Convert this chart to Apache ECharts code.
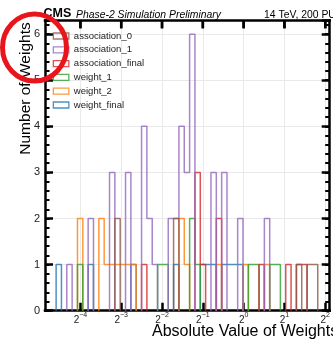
<!DOCTYPE html>
<html>
<head>
<meta charset="utf-8">
<script src="https://cdn.jsdelivr.net/npm/echarts@6/dist/echarts.min.js"></script>
<style>
  html, body { margin: 0; padding: 0; background: #ffffff; }
  #chart { width: 333px; height: 340px; }
</style>
</head>
<body>
<div id="chart"></div>
<script>
// Logarithmic bin edges (50 edges -> 49 bins)
const binEdges = [
  0.04138, 0.04530, 0.04960, 0.05431, 0.05947, 0.06511, 0.07129, 0.07806, 0.08547, 0.09359,
  0.10247, 0.11220, 0.12285, 0.13451, 0.14728, 0.16126, 0.17657, 0.19333, 0.21168, 0.23178,
  0.25378, 0.27787, 0.30425, 0.33313, 0.36476, 0.39938, 0.43730, 0.47881, 0.52426, 0.57403,
  0.62852, 0.68819, 0.75352, 0.82505, 0.90337, 0.98913, 1.08302, 1.18583, 1.29840, 1.42165,
  1.55661, 1.70437, 1.86617, 2.04332, 2.23729, 2.44967, 2.68221, 2.93683, 3.21562, 3.52087
];

// Counts per bin for each histogram
//                     0  1  2  3  4  5  6  7  8  9 10 11 12 13 14 15 16 17 18 19 20 21 22 23 24 25 26 27 28 29 30 31 32 33 34 35 36 37 38 39 40 41 42 43 44 45 46 47 48
const weightFinal     = [1, 0, 0, 0, 0, 0, 1, 0, 0, 0, 0, 0, 0, 0, 1, 0, 0, 0, 0, 0, 0, 0, 1, 0, 0, 0, 0, 1, 1, 1, 0, 1, 1, 1, 1, 0, 0, 0, 0, 0, 0, 0, 0, 0, 0, 0, 0, 0, 0];
const weight2         = [0, 0, 0, 0, 2, 0, 0, 0, 2, 1, 1, 1, 1, 1, 1, 0, 0, 0, 0, 0, 0, 0, 0, 2, 1, 0, 0, 0, 0, 0, 1, 0, 0, 0, 0, 1, 0, 0, 0, 1, 0, 0, 0, 0, 0, 0, 0, 0, 0];
const weight1         = [0, 0, 0, 0, 1, 0, 0, 0, 0, 0, 0, 0, 0, 0, 0, 0, 0, 0, 0, 1, 1, 0, 0, 0, 0, 2, 1, 0, 0, 0, 0, 0, 0, 0, 0, 0, 1, 1, 0, 0, 1, 1, 0, 0, 0, 0, 0, 0, 0];
const associationFinal= [0, 0, 0, 0, 0, 0, 0, 0, 0, 0, 0, 0, 0, 0, 0, 0, 1, 0, 0, 0, 0, 0, 0, 0, 0, 0, 3, 1, 0, 0, 2, 0, 0, 0, 0, 0, 0, 0, 1, 0, 0, 0, 0, 1, 0, 1, 1, 0, 0];
const association1    = [0, 0, 1, 0, 0, 0, 2, 0, 0, 0, 3, 0, 0, 3, 0, 0, 4, 2, 1, 0, 0, 2, 2, 4, 3, 6, 0, 0, 0, 3, 0, 3, 0, 0, 2, 0, 0, 0, 0, 2, 0, 0, 0, 0, 0, 0, 0, 0, 0];
const association0    = [0, 0, 0, 0, 0, 0, 0, 0, 0, 0, 0, 2, 0, 0, 0, 0, 0, 0, 0, 0, 0, 0, 2, 0, 0, 0, 0, 0, 0, 0, 0, 0, 0, 0, 0, 0, 0, 0, 0, 0, 0, 0, 0, 0, 0, 1, 0, 1, 1];

// Drawing order (first is bottom-most) and the legend order
const histograms = [
  { name: 'weight_final',      counts: weightFinal,      color: '#1f77b4' },
  { name: 'weight_2',          counts: weight2,          color: '#ff7f0e' },
  { name: 'weight_1',          counts: weight1,          color: '#2ca02c' },
  { name: 'association_final', counts: associationFinal, color: '#d62728' },
  { name: 'association_1',     counts: association1,     color: '#9467bd' },
  { name: 'association_0',     counts: association0,     color: '#8c564b' }
];
const legendOrder = ['association_0', 'association_1', 'association_final', 'weight_1', 'weight_2', 'weight_final'];

// Axis ranges and the powers of two marked along the top edge
const X_MIN = 0.034257;   // 2^-4.8675
const X_MAX = 4.312;      // 2^2.108
const topTickValues = [0.0625, 0.125, 0.25, 0.5, 1, 2, 4];
const Y_MIN = 0;
const Y_MAX = 6.3;

const FONT = "'Liberation Sans', Arial, Helvetica, sans-serif";

// Step outline of a histogram; empty runs break the line so nothing runs along the baseline
function stepOutline(counts) {
  const pts = [];
  let prev = 0;
  for (let k = 0; k < counts.length; k++) {
    const c = counts[k];
    if (c === 0) {
      if (prev > 0) {
        pts.push([binEdges[k], 0]);
        pts.push([binEdges[k], '-']);
      }
      prev = 0;
      continue;
    }
    if (prev === 0) pts.push([binEdges[k], 0]);
    pts.push([binEdges[k], c]);
    pts.push([binEdges[k + 1], c]);
    prev = c;
  }
  if (prev > 0) pts.push([binEdges[counts.length], 0]);
  return pts;
}

const chart = echarts.init(document.getElementById('chart'), null, { renderer: 'canvas' });

const frame = { show: true, onZero: false, lineStyle: { color: '#000', width: 2.5, cap: 'square' } };
const noFrame = { show: false, onZero: false };
const majorTick = { show: true, inside: true, length: 8, lineStyle: { color: '#000', width: 2.5 } };
const minorTick = { show: true, inside: true, length: 4.5, lineStyle: { color: '#000', width: 2 } };
const gridLine = { show: true, lineStyle: { color: '#e9e9e9', width: 1 } };

const yBase = { type: 'value', min: Y_MIN, max: Y_MAX };
const xBase = { type: 'log', logBase: 2, min: X_MIN, max: X_MAX };

// Inward tick marks hanging from the top frame at each power of two
const topTicksSeries = {
  type: 'custom',
  name: 'top-ticks',
  xAxisIndex: 0, yAxisIndex: 0,
  silent: true, clip: false, z: 50,
  data: topTickValues.map(v => [v, Y_MAX]),
  renderItem: (params, api) => {
    const p = api.coord([api.value(0), api.value(1)]);
    return {
      type: 'line',
      shape: { x1: p[0], y1: p[1], x2: p[0], y2: p[1] + 8 },
      style: { stroke: '#000', lineWidth: 2.5 }
    };
  }
};

const textGraphics = [
  { id: 'cms', type: 'text', x: 43.5, y: 14, z: 10,
    style: { text: 'CMS', font: 'bold 12.5px ' + FONT, fill: '#000', align: 'left', verticalAlign: 'middle' } },
  { id: 'phase2', type: 'text', x: 76, y: 14.7, z: 10,
    style: { text: 'Phase-2 Simulation Preliminary', font: 'italic 10.4px ' + FONT, fill: '#000', align: 'left', verticalAlign: 'middle' } },
  { id: 'energy', type: 'text', x: 264, y: 14.7, z: 10,
    style: { text: '14 TeV, 200 PU', font: '10.4px ' + FONT, fill: '#000', align: 'left', verticalAlign: 'middle' } },
  { id: 'xtitle', type: 'text', x: 152, y: 332, z: 10,
    style: { text: 'Absolute Value of Weights', font: '16px ' + FONT, fill: '#000', align: 'left', verticalAlign: 'middle' } },
  { id: 'ytitle', type: 'text', x: 26, y: 88.5, rotation: Math.PI / 2, z: 10,
    style: { text: 'Number of Weights', font: '15.5px ' + FONT, fill: '#000', align: 'center', verticalAlign: 'middle' } },
  { id: 'ring', type: 'ellipse', z: 100,
    shape: { cx: 34.5, cy: 47.5, rx: 32, ry: 33.5 },
    style: { fill: 'none', stroke: '#e8161c', lineWidth: 5 } }
];

const option = {
  animation: false,
  backgroundColor: '#ffffff',
  grid: { left: 45, top: 20.3, width: 289.5, height: 290.4 },
  legend: {
    orient: 'vertical',
    left: 52.7, top: 30.1, padding: 0,
    itemWidth: 15.5, itemHeight: 6, itemGap: 2,
    selectedMode: false,
    textStyle: { fontFamily: FONT, fontSize: 9.5, color: '#222', lineHeight: 11.8 },
    data: legendOrder.map(n => {
      const h = histograms.find(s => s.name === n);
      return {
        name: n, icon: 'rect',
        itemStyle: { color: 'rgba(255,255,255,0)', borderColor: h.color, borderWidth: 1.3, opacity: 0.8 }
      };
    })
  },
  xAxis: [
    Object.assign({}, xBase, {
      position: 'bottom',
      axisLine: frame,
      axisTick: majorTick,
      splitLine: gridLine,
      axisLabel: {
        margin: 1, showMinLabel: false, showMaxLabel: false,
        formatter: v => '{b|2}{s|' + String(Math.round(Math.log2(v))).replace('-', '\u2212') + '}',
        rich: {
          b: { fontFamily: FONT, fontSize: 10, color: '#222', lineHeight: 14, verticalAlign: 'bottom' },
          s: { fontFamily: FONT, fontSize: 7, color: '#222', lineHeight: 8, verticalAlign: 'top' }
        }
      }
    }),
    Object.assign({}, xBase, {
      position: 'top',
      axisLine: frame,
      axisTick: { show: false },
      splitLine: { show: false },
      axisLabel: { show: false }
    })
  ],
  yAxis: [
    Object.assign({}, yBase, {
      position: 'left', interval: 1,
      axisLine: frame,
      axisTick: majorTick, splitLine: gridLine,
      axisLabel: { margin: 5, showMaxLabel: false, fontFamily: FONT, fontSize: 11, color: '#222' }
    }),
    Object.assign({}, yBase, {
      position: 'left', interval: 0.2,
      axisLine: noFrame,
      axisTick: minorTick, splitLine: { show: false }, axisLabel: { show: false }
    }),
    Object.assign({}, yBase, {
      position: 'right', interval: 1,
      axisLine: frame,
      axisTick: majorTick, splitLine: { show: false }, axisLabel: { show: false }
    }),
    Object.assign({}, yBase, {
      position: 'right', interval: 0.2,
      axisLine: noFrame,
      axisTick: minorTick, splitLine: { show: false }, axisLabel: { show: false }
    })
  ],
  series: histograms.map(h => ({
    name: h.name,
    type: 'line',
    xAxisIndex: 0, yAxisIndex: 0,
    data: stepOutline(h.counts),
    showSymbol: false, symbol: 'none',
    connectNulls: false,
    clip: true,
    color: h.color,
    lineStyle: { color: h.color, width: 1.5, opacity: 0.8 },
    emphasis: { disabled: true }
  })).concat([topTicksSeries]),
  graphic: textGraphics
};

chart.setOption(option);

// Top-edge tick marks placed through the axis scales once the grid is laid out
try {
  const tickGraphics = topTickValues.map((v, i) => {
    const p = chart.convertToPixel({ xAxisIndex: 0, yAxisIndex: 0 }, [v, Y_MAX]);
    return {
      id: 'topTick' + i, type: 'line', z: 50, silent: true,
      shape: { x1: p[0], y1: p[1], x2: p[0], y2: p[1] + 8 },
      style: { stroke: '#000', lineWidth: 2.5 }
    };
  });
  chart.setOption({ graphic: textGraphics.concat(tickGraphics) });
} catch (e) {
  console.error(e);
}
</script>
</body>
</html>
